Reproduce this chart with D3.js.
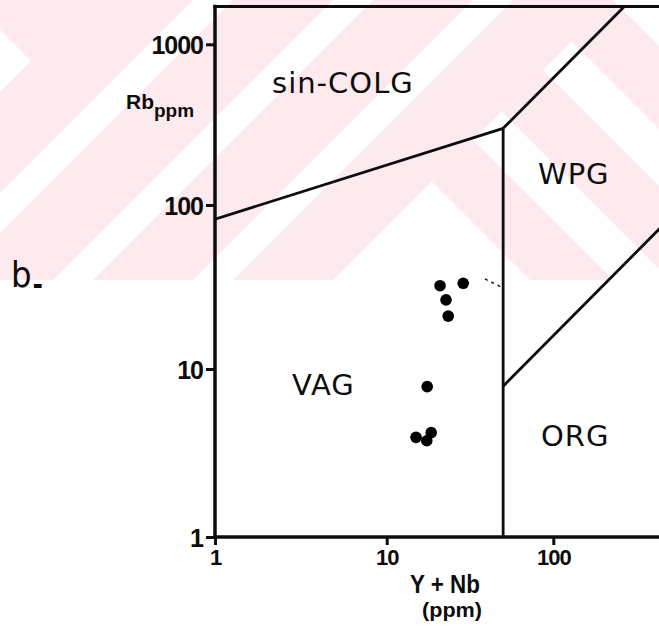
<!DOCTYPE html>
<html>
<head>
<meta charset="utf-8">
<script src="https://cdn.jsdelivr.net/npm/d3@7"></script>
<style>
  html, body { margin: 0; padding: 0; background: #fff; }
  svg { display: block; }
</style>
</head>
<body>
<script>
// Samples: Y+Nb (ppm) against Rb (ppm)
const yNb = [20.9, 28.8, 22.7, 23.4, 17.5, 15.0, 17.4, 18.5];
const rb  = [32.2, 33.3, 26.4, 21.0, 7.85, 3.92, 3.74, 4.18];

const xTicks = [1, 10, 100];
const yTicks = [1, 10, 100, 1000];

// Field boundaries as (Y+Nb, Rb) vertices
const colgVagBoundary = [[1, 82], [50, 300]];
const colgWpgBoundary = [[50, 300], [267, 1720]];
const vagWpgBoundary  = [[50, 300], [50, 1]];
const wpgOrgBoundary  = [[50, 7.9], [1000, 170]];
const dashedTrace     = [[38.9, 35.4], [50, 31.2]];

// Field names and where their text starts (Y+Nb, Rb of the baseline start)
const fieldNames   = ["sin-COLG", "WPG", "VAG", "ORG"];
const fieldAnchors = [[2.15, 499], [80.9, 136], [2.81, 7.0], [84.4, 3.48]];

const W = 659, H = 634;
const svg = d3.select("body").append("svg")
  .attr("width", W).attr("height", H)
  .attr("viewBox", `0 0 ${W} ${H}`);

svg.append("rect").attr("width", W).attr("height", H).attr("fill", "#fff");

// Faint pink chevron banding across the top of the sheet
const wmH = 280, pink = "#fdeaee";
const defs = svg.append("defs");
const pts = a => a.map(p => p.join(",")).join(" ");
defs.append("clipPath").attr("id", "wmUpper")
  .append("polygon").attr("points", pts([[0, 0], [613, 0], [613 - wmH, wmH], [0, wmH]]));
defs.append("clipPath").attr("id", "wmLower")
  .append("polygon").attr("points", pts([[613, 0], [W, 0], [W, wmH], [613 - wmH, wmH]]));

const wm = svg.append("g");
wm.append("rect").attr("x", 0).attr("y", 0).attr("width", W).attr("height", wmH).attr("fill", pink);
// rising bands: c <= x + y <= c + w
const rise = (c, w) => pts([[c, 0], [c + w, 0], [c + w - wmH, wmH], [c - wmH, wmH]]);
// falling bands: c <= x - y <= c + w
const fall = (c, w) => pts([[c, 0], [c + w, 0], [c + w + wmH, wmH], [c + wmH, wmH]]);

const upper = wm.append("g").attr("clip-path", "url(#wmUpper)").attr("fill", "#fff");
[[193, 40], [333, 40], [473, 40]].forEach(([c, w]) => upper.append("polygon").attr("points", rise(c, w)));
// chevron tip at the left edge
upper.append("polygon").attr("points", pts([[0, 30], [31, 61], [0, 92]]));

const lower = wm.append("g").attr("clip-path", "url(#wmLower)").attr("fill", "#fff");
lower.append("polygon").attr("points", pts([[0, 0], [250, 0], [250 + wmH, wmH], [0, wmH]]));
[[333, 57], [473, 57], [613, 57]].forEach(([c, w]) => lower.append("polygon").attr("points", fall(c, w)));

// Log scales (hand-drawn decades are not exactly equal, so each decade gets its own span)
const x = d3.scaleLog().domain([1, 10, 100]).range([215, 386.7, 553.3]);
const y = d3.scaleLog().domain([1, 10, 100, 1000]).range([537, 369, 205, 44.3]);

const plotTop = 6.5, plotLeft = x(1), plotBottom = y(1);
const ink = "#0d0d0d";

// Frame: left axis, bottom axis, top edge
const frame = svg.append("g").attr("stroke", ink).attr("fill", "none").attr("stroke-linecap", "square");
frame.append("line").attr("x1", plotLeft).attr("x2", plotLeft).attr("y1", plotTop).attr("y2", plotBottom).attr("stroke-width", 3.5);
frame.append("line").attr("x1", plotLeft).attr("x2", W + 5).attr("y1", plotBottom).attr("y2", plotBottom).attr("stroke-width", 3.5);
frame.append("line").attr("x1", plotLeft).attr("x2", W + 5).attr("y1", plotTop).attr("y2", plotTop).attr("stroke-width", 3);

// Axes ticks and labels
const yAxis = svg.append("g")
  .attr("transform", `translate(${plotLeft},0)`)
  .call(d3.axisLeft(y).tickValues(yTicks).tickSize(9).tickPadding(3).tickFormat(d3.format("d")));
yAxis.select(".domain").remove();
yAxis.selectAll(".tick line").attr("stroke", ink).attr("stroke-width", 3);
yAxis.selectAll(".tick text")
  .attr("fill", ink)
  .attr("font-family", "'Liberation Sans', Arial, sans-serif")
  .attr("font-weight", "bold")
  .attr("font-size", 25)
  .attr("letter-spacing", -1)
  .attr("dy", "0.36em");

const xAxis = svg.append("g")
  .attr("transform", `translate(0,${plotBottom})`)
  .call(d3.axisBottom(x).tickValues(xTicks).tickSize(8).tickPadding(4).tickFormat(d3.format("d")));
xAxis.select(".domain").remove();
xAxis.selectAll(".tick line").attr("stroke", ink).attr("stroke-width", 3);
xAxis.selectAll(".tick text")
  .attr("fill", ink)
  .attr("font-family", "'Liberation Sans', Arial, sans-serif")
  .attr("font-weight", "bold")
  .attr("font-size", 22)
  .attr("letter-spacing", -1);

// Field boundaries, clipped to the plotting frame
defs.append("clipPath").attr("id", "plotClip")
  .append("rect").attr("x", plotLeft).attr("y", plotTop).attr("width", W - plotLeft + 10).attr("height", plotBottom - plotTop);

const line = d3.line().x(d => x(d[0])).y(d => y(d[1]));
const bounds = svg.append("g").attr("clip-path", "url(#plotClip)")
  .attr("fill", "none").attr("stroke", ink).attr("stroke-linejoin", "round");
[colgVagBoundary, colgWpgBoundary, vagWpgBoundary, wpgOrgBoundary].forEach(b =>
  bounds.append("path").datum(b).attr("d", line).attr("stroke-width", 2.8));
bounds.append("path").datum(dashedTrace).attr("d", line).attr("stroke-width", 1.4).attr("stroke-dasharray", "3,4");

// Field names
svg.append("g").selectAll("text").data(fieldNames).join("text")
  .attr("x", (d, i) => x(fieldAnchors[i][0]))
  .attr("y", (d, i) => y(fieldAnchors[i][1]))
  .attr("fill", ink)
  .attr("font-family", "'DejaVu Sans', sans-serif")
  .attr("font-size", 29)
  .attr("letter-spacing", 1)
  .text(d => d);

// Sample points
svg.append("g").selectAll("circle").data(yNb).join("circle")
  .attr("cx", d => x(d))
  .attr("cy", (d, i) => y(rb[i]))
  .attr("r", 5.8)
  .attr("fill", "#000");

// Axis titles
const yTitle = svg.append("text")
  .attr("x", 126).attr("y", 109)
  .attr("fill", ink)
  .attr("font-family", "'Liberation Sans', Arial, sans-serif")
  .attr("font-weight", "bold")
  .attr("font-size", 21);
yTitle.append("tspan").text("Rb");
yTitle.append("tspan").attr("dy", 8).attr("font-size", 19).text("ppm");

svg.append("text")
  .attr("x", 445).attr("y", 593)
  .attr("text-anchor", "middle")
  .attr("fill", ink)
  .attr("font-family", "'Liberation Sans', Arial, sans-serif")
  .attr("font-weight", "bold")
  .attr("font-size", 25)
  .attr("textLength", 70).attr("lengthAdjust", "spacingAndGlyphs")
  .text("Y + Nb");
svg.append("text")
  .attr("x", 452).attr("y", 617)
  .attr("text-anchor", "middle")
  .attr("fill", ink)
  .attr("font-family", "'Liberation Sans', Arial, sans-serif")
  .attr("font-weight", "bold")
  .attr("font-size", 20)
  .attr("textLength", 60).attr("lengthAdjust", "spacingAndGlyphs")
  .text("(ppm)");

// Panel letter
const panel = svg.append("text")
  .attr("x", 11).attr("y", 287)
  .attr("fill", ink)
  .attr("font-family", "'Liberation Sans Narrow', 'DejaVu Sans Condensed', sans-serif")
  .attr("font-size", 36);
panel.append("tspan").text("b");
panel.append("tspan").attr("font-size", 28).attr("font-weight", "bold").attr("dx", 1).attr("dy", 7).text("-");
</script>
</body>
</html>
